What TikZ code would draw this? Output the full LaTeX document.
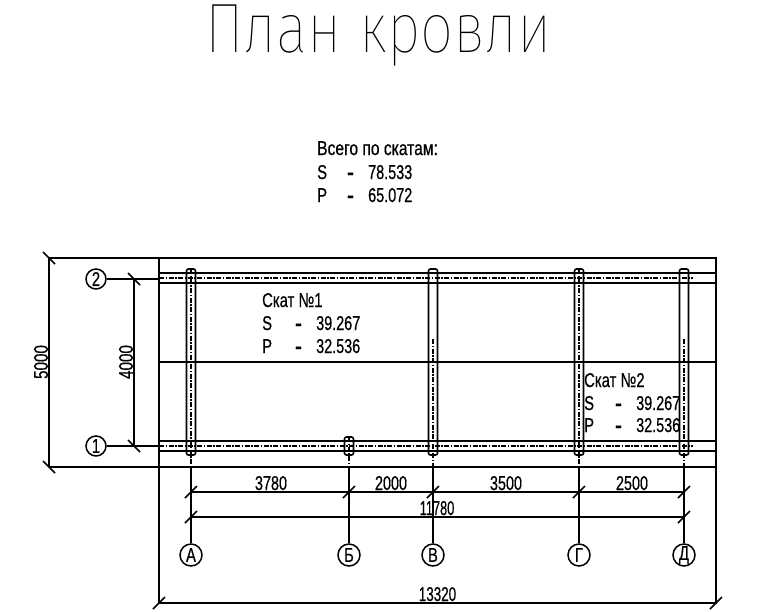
\documentclass[tikz,border=0pt]{standalone}
\usepackage{fontspec}
\setmainfont{Liberation Sans}
\newfontfamily\titlefont{Fira Sans Thin}
\newfontfamily\cadfont[RawFeature={embolden=0.6}]{Liberation Sans}
\usetikzlibrary{calc}
\newcommand{\cad}[2][0.74]{\scalebox{#1}[1]{\cadfont\fontsize{20}{20}\selectfont #2}}
\newcommand{\caddash}{\scalebox{1}[1]{\cadfont\fontsize{20}{20}\selectfont\textbf{-}}}
\tikzset{
  x=1pt,y=-1pt,
  ln/.style={line width=1.6pt,black},
  thinln/.style={line width=1.3pt,black},
  axdash/.style={line width=1.2pt,black,dash pattern=on 5pt off 1.5pt on 1.5pt off 1.5pt},
  col/.style={line width=1.6pt,rounded corners=2pt,draw=black},
  tickm/.style={line width=1.6pt,black},
  bub/.style={circle,draw=black,line width=1.5pt,minimum size=22pt,inner sep=0pt},
  bubr/.style={circle,draw=black,line width=1.5pt,minimum size=20pt,inner sep=0pt},
  txt/.style={inner sep=0pt,anchor=base west},
  dim/.style={inner sep=0pt,anchor=base},
}
\begin{document}
\begin{tikzpicture}
\useasboundingbox (0,0) rectangle (763,611);
\fill[white] (0,0) rectangle (763,611);
% titles
\node[dim] (title) at (378.5,52) {\scalebox{0.84}[1]{\titlefont\fontsize{70}{70}\selectfont План кровли}};
\node[txt] (tot) at (317,155) {\cad[0.78]{Всего по скатам:}};
\node[txt] (totS) at (317,179) {\cad{S}};
\node[txt] (totSd) at (347,179) {\caddash};
\node[txt] (totSv) at (368,179) {\cad[0.72]{78.533}};
\node[txt] (totP) at (317,202) {\cad{P}};
\node[txt] (totPd) at (347,202) {\caddash};
\node[txt] (totPv) at (368,202) {\cad[0.72]{65.072}};
% outline
\coordinate (TL) at (159,258); \coordinate (TR) at (716,258);
\coordinate (BL) at (159,603); \coordinate (BR) at (716,603);
\coordinate (FL) at (49,258);  \coordinate (GL) at (49,467); \coordinate (GR) at (716,467);
\draw[ln] (FL) -- (TR) -- (BR) -- (BL) -- (TL);
\draw[ln] (GL) -- (GR);
\draw[ln] (FL) -- (GL);
\coordinate (ML) at (159,362); \coordinate (MR) at (716,362);
\draw[thinln] (ML) -- (MR);
% beams
\foreach \y in {273,283,441,451} {\draw[ln] (159,\y) -- (716,\y);}
\draw[axdash] (159,278) -- (693,278);
\draw[axdash] (159,446) -- (693,446);
% columns
\foreach \x in {191,433,579,684} {\draw[col] (\x-4.5,455) rectangle (\x+4.5,269);}
\draw[col] (344.5,455) rectangle (353.5,437);
% column centre lines
\draw[axdash] (191,269) -- (191,466);
\draw[axdash] (349,437) -- (349,466);
\draw[axdash] (433,339) -- (433,466);
\draw[axdash] (579,269) -- (579,466);
\draw[axdash] (684,339) -- (684,466);
% axis bubbles
\node[bub] (A) at (191,555) {\cad{А}};
\node[bub] (B) at (349,555) {\cad{Б}};
\node[bub] (V) at (433,555) {\cad{В}};
\node[bub] (G) at (579,555) {\cad{Г}};
\node[bub] (D) at (684,555) {\cad{Д}};
\node[bubr] (R2) at (96,279) {\cad{2}};
\node[bubr] (R1) at (96,446) {\cad{1}};
\foreach \n/\x in {A/191,B/349,V/433,G/579,D/684} {
  \coordinate (top\n) at (\x,468);
  \draw[ln] (top\n) -- (\n.north);
  \coordinate (d1\n) at (\x,492);
  \draw[tickm] ($(d1\n)+(-6,6)$) -- ($(d1\n)+(6,-6)$);
}
\coordinate (d2A) at (191,517); \coordinate (d2D) at (684,517);
\draw[ln] (d1A) -- (d1D);
\draw[ln] (d2A) -- (d2D);
\draw[tickm] ($(d2A)+(-6,6)$) -- ($(d2A)+(6,-6)$);
\draw[tickm] ($(d2D)+(-6,6)$) -- ($(d2D)+(6,-6)$);
% row leaders
\coordinate (e2) at (159,279); \coordinate (e1) at (159,446);
\draw[ln] (R2.east) -- (e2);
\draw[ln] (R1.east) -- (e1);
\coordinate (r2) at (134,279); \coordinate (r1) at (134,446);
\draw[ln] (r2) -- (r1);
\draw[tickm] ($(r2)+(-6,-6)$) -- ($(r2)+(6,6)$);
\draw[tickm] ($(r1)+(-6,-6)$) -- ($(r1)+(6,6)$);
% outer ticks
\draw[tickm] ($(FL)+(-6,-6)$) -- ($(FL)+(6,6)$);
\draw[tickm] ($(GL)+(-6,-6)$) -- ($(GL)+(6,6)$);
\draw[tickm] ($(BL)+(-6,6)$) -- ($(BL)+(6,-6)$);
\draw[tickm] ($(BR)+(-6,6)$) -- ($(BR)+(6,-6)$);
% dimension labels
\node[dim] (l1) at (271,490) {\cad[0.72]{3780}};
\node[dim] (l2) at (391,490) {\cad[0.72]{2000}};
\node[dim] (l3) at (506,490) {\cad[0.72]{3500}};
\node[dim] (l4) at (632,490) {\cad[0.72]{2500}};
\node[dim] (l5) at (437,515) {\cad[0.64]{11780}};
\node[dim] (l6) at (437.5,601) {\cad[0.67]{13320}};
\node[inner sep=0pt,rotate=90] (l7) at (41,362) {\cad[0.76]{5000}};
\node[inner sep=0pt,rotate=90] (l8) at (126,362) {\cad[0.76]{4000}};
% roof slopes
\node[txt] (s1) at (262,307) {\cad{Скат №1}};
\node[txt] (s1S) at (262,330) {\cad{S}};
\node[txt] (s1Sd) at (295,330) {\caddash};
\node[txt] (s1Sv) at (316,330) {\cad[0.72]{39.267}};
\node[txt] (s1P) at (262,353) {\cad{P}};
\node[txt] (s1Pd) at (295,353) {\caddash};
\node[txt] (s1Pv) at (316,353) {\cad[0.72]{32.536}};
\node[txt] (s2) at (584,387) {\cad{Скат №2}};
\node[txt] (s2S) at (584,410) {\cad{S}};
\node[txt] (s2Sd) at (615,410) {\caddash};
\node[txt] (s2Sv) at (636,410) {\cad[0.72]{39.267}};
\node[txt] (s2P) at (584,432) {\cad{P}};
\node[txt] (s2Pd) at (615,432) {\caddash};
\node[txt] (s2Pv) at (636,432) {\cad[0.72]{32.536}};
\end{tikzpicture}
\end{document}
